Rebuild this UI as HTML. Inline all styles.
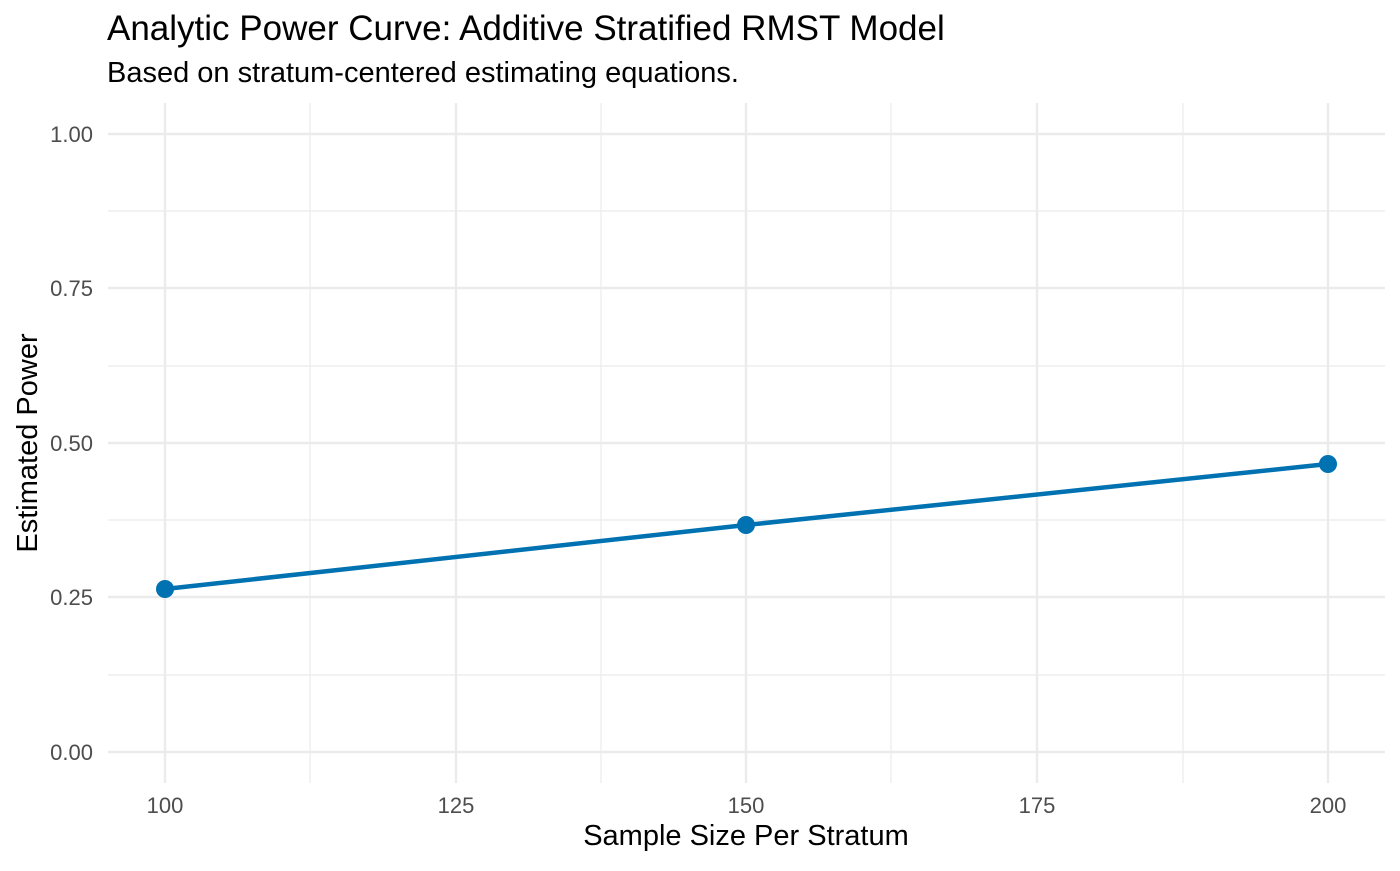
<!DOCTYPE html>
<html><head><meta charset="utf-8"><style>
html,body{margin:0;padding:0;background:#fff;}
svg text{font-family:"Liberation Sans",Arial,sans-serif;}
</style></head><body>
<svg width="1400" height="866" xmlns="http://www.w3.org/2000/svg">
<rect width="1400" height="866" fill="#fff"/>
<g stroke="#ebebeb" stroke-width="1.2">
<line x1="108" x2="1385" y1="211" y2="211"/><line x1="108" x2="1385" y1="366" y2="366"/>
<line x1="108" x2="1385" y1="520" y2="520"/><line x1="108" x2="1385" y1="675" y2="675"/>
<line x1="310" x2="310" y1="103" y2="783"/><line x1="601" x2="601" y1="103" y2="783"/>
<line x1="891" x2="891" y1="103" y2="783"/><line x1="1183" x2="1183" y1="103" y2="783"/>
</g>
<g stroke="#ebebeb" stroke-width="2.4">
<line x1="108" x2="1385" y1="134" y2="134"/><line x1="108" x2="1385" y1="288" y2="288"/>
<line x1="108" x2="1385" y1="443" y2="443"/><line x1="108" x2="1385" y1="597" y2="597"/>
<line x1="108" x2="1385" y1="752" y2="752"/>
<line x1="165" x2="165" y1="103" y2="783"/><line x1="456" x2="456" y1="103" y2="783"/>
<line x1="746" x2="746" y1="103" y2="783"/><line x1="1037" x2="1037" y1="103" y2="783"/>
<line x1="1328" x2="1328" y1="103" y2="783"/>
</g>
<polyline points="165,589 746,525 1328,464" fill="none" stroke="#0072B2" stroke-width="4.5"/>
<g fill="#0072B2"><circle cx="165" cy="589" r="9"/><circle cx="746" cy="525" r="9"/><circle cx="1328" cy="464" r="9"/></g>
<g font-size="22" fill="#4d4d4d" text-anchor="end">
<text x="93" y="142">1.00</text><text x="93" y="296">0.75</text><text x="93" y="451">0.50</text>
<text x="93" y="605">0.25</text><text x="93" y="760">0.00</text>
</g>
<g font-size="22" fill="#4d4d4d" text-anchor="middle">
<text x="165" y="813">100</text><text x="456" y="813">125</text><text x="746" y="813">150</text>
<text x="1037" y="813">175</text><text x="1328" y="813">200</text>
</g>
<text x="746" y="845" font-size="29" text-anchor="middle" fill="#000">Sample Size Per Stratum</text>
<text transform="translate(37,443) rotate(-90)" font-size="29" text-anchor="middle" fill="#000">Estimated Power</text>
<text x="107" y="40" font-size="35" fill="#000">Analytic Power Curve: Additive Stratified RMST Model</text>
<text x="107" y="82" font-size="29" fill="#000">Based on stratum-centered estimating equations.</text>
</svg>
</body></html>
